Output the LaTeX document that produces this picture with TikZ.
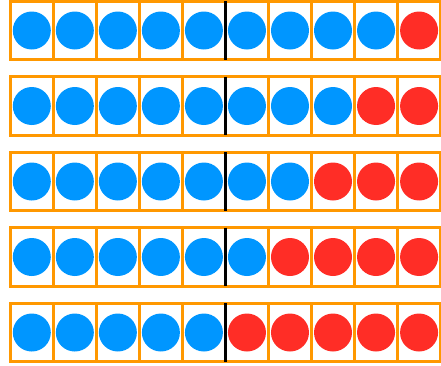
\documentclass[tikz,border=0pt]{standalone}
\definecolor{frameorange}{RGB}{255,152,0}
\definecolor{dotblue}{RGB}{0,150,255}
\definecolor{dotred}{RGB}{255,45,38}
\begin{document}
\begin{tikzpicture}[x=1pt,y=-1pt,
  cellbox/.style={draw=frameorange,line width=2.8pt},
  bluedot/.style={fill=dotblue},
  reddot/.style={fill=dotred},
  midline/.style={draw=black,line width=2.5pt}]
\useasboundingbox (0,0) rectangle (441,365);
\foreach \r in {0,...,4}{
  \pgfmathsetmacro{\top}{1.2+75.5*\r}
  \pgfmathsetmacro{\bot}{\top+58.6}
  \pgfmathsetmacro{\cy}{\top+29.3}
  \pgfmathtruncatemacro{\nblue}{9-\r}
  \foreach \c in {0,...,9}{
    \pgfmathsetmacro{\xl}{10.3+43.03*\c}
    \pgfmathsetmacro{\xr}{\xl+43.03}
    \pgfmathsetmacro{\cx}{\xl+21.5}
    \draw[cellbox] (\xl,\top) rectangle (\xr,\bot);
    \ifnum\c<\nblue
      \fill[bluedot] (\cx,\cy) circle (19);
    \else
      \fill[reddot] (\cx,\cy) circle (19);
    \fi
  }
  \draw[midline] (225.5,\top) -- (225.5,\bot);
}
\end{tikzpicture}
\end{document}
